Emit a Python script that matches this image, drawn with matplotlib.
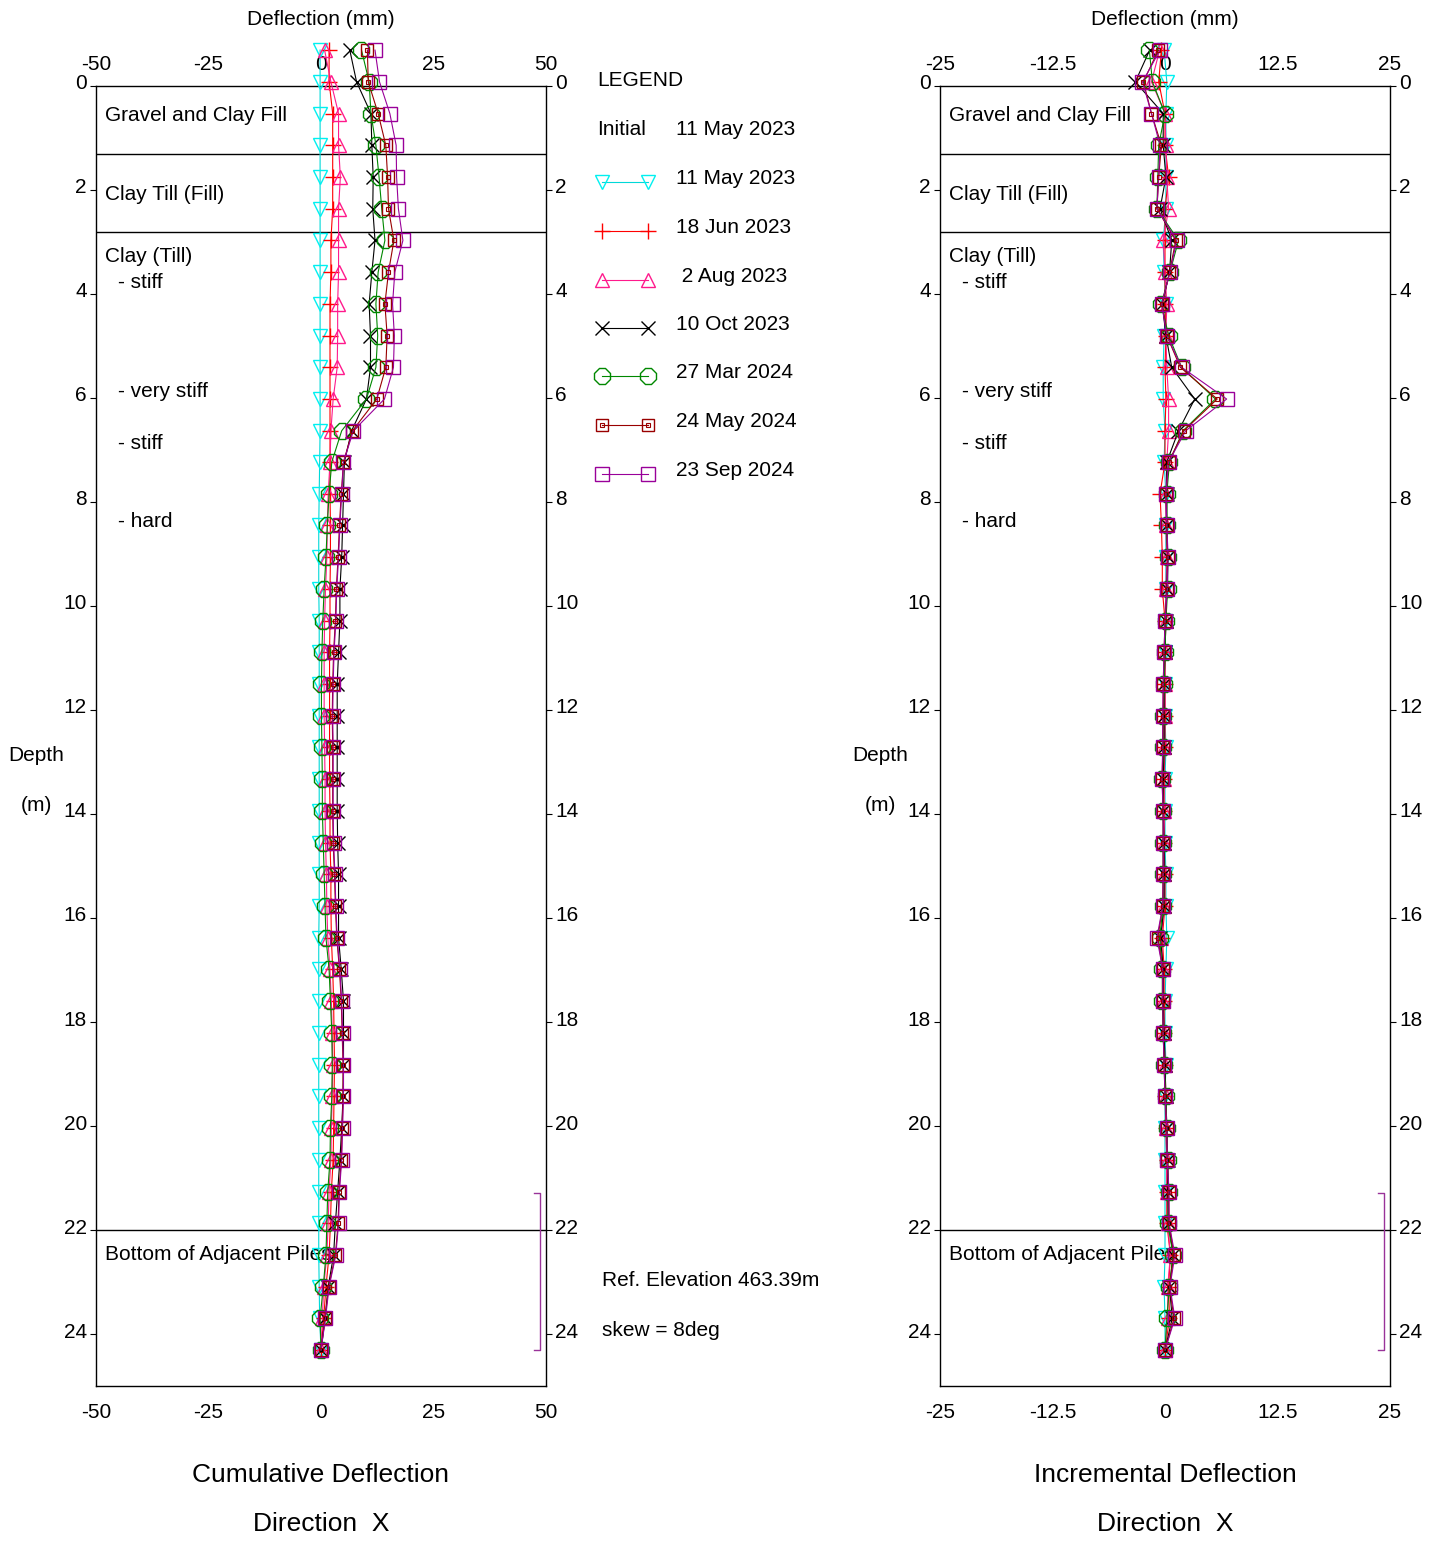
import matplotlib
matplotlib.use("Agg")
import matplotlib.pyplot as plt
from matplotlib.transforms import ScaledTranslation

plt.rcParams['font.family'] = ['Liberation Sans', 'DejaVu Sans']

# ---------------- data ----------------
depth = [-0.69, -0.08, 0.53, 1.14, 1.75, 2.36, 2.97, 3.58, 4.19, 4.80,
         5.41, 6.02, 6.63, 7.23, 7.84, 8.45, 9.06, 9.67, 10.28, 10.89,
         11.50, 12.11, 12.72, 13.33, 13.94, 14.55, 15.16, 15.77, 16.38, 16.99,
         17.60, 18.21, 18.82, 19.43, 20.04, 20.65, 21.26, 21.87, 22.48, 23.09,
         23.70, 24.31]

labels = ["11 May 2023", "18 Jun 2023", " 2 Aug 2023", "10 Oct 2023",
          "27 Mar 2024", "24 May 2024", "23 Sep 2024"]

cum_cyan = [-0.2, -0.2, -0.2, -0.2, -0.2, -0.2, -0.2, -0.2, -0.2, -0.2,
            -0.2, -0.2, -0.2, -0.3, -0.4, -0.5, -0.5, -0.5, -0.4, -0.4,
            -0.4, -0.4, -0.4, -0.4, -0.4, -0.4, -0.4, -0.4, -0.5, -0.5,
            -0.5, -0.5, -0.5, -0.5, -0.5, -0.5, -0.5, -0.5, -0.5, -0.4,
            -0.3, 0.0]
cum_red = [1.8, 1.8, 2.6, 2.6, 2.6, 2.6, 2.2, 2.2, 2.0, 2.0,
           2.0, 2.0, 2.0, 2.0, 2.0, 2.1, 2.1, 2.0, 2.0, 1.9,
           1.9, 1.9, 1.9, 1.9, 2.0, 2.0, 2.2, 2.2, 2.3, 2.6,
           2.8, 2.9, 3.0, 2.9, 2.8, 2.7, 2.3, 2.1, 1.8, 1.1,
           0.6, 0.0]
cum_pink = [0.8, 2.2, 3.9, 3.9, 4.3, 3.9, 3.9, 3.9, 3.7, 3.7,
            3.6, 2.7, 2.2, 2.0, 1.6, 1.4, 1.3, 1.0, 0.8, 0.7,
            0.7, 0.7, 0.8, 0.9, 0.9, 1.0, 1.2, 1.3, 1.5, 2.0,
            2.3, 2.5, 2.6, 2.5, 2.3, 2.2, 1.8, 1.6, 1.3, 0.6,
            0.3, 0.0]
cum_black = [6.4, 7.9, 11.1, 11.3, 11.6, 11.5, 12.0, 11.3, 10.7, 11.0,
             11.0, 10.1, 6.8, 5.2, 5.0, 4.8, 4.6, 4.2, 4.2, 3.9,
             3.6, 3.6, 3.6, 3.6, 3.6, 3.7, 3.9, 3.9, 3.9, 4.5,
             5.0, 5.0, 5.0, 4.9, 4.6, 4.2, 3.7, 3.2, 2.8, 1.6,
             0.9, 0.0]
cum_green = [9.0, 10.7, 11.1, 12.2, 12.9, 13.5, 14.2, 12.7, 12.2, 12.6,
             12.2, 10.1, 4.6, 2.4, 1.8, 1.4, 1.1, 0.7, 0.4, 0.2,
             0.1, 0.1, 0.2, 0.3, 0.3, 0.5, 0.7, 0.9, 1.1, 1.8,
             2.1, 2.4, 2.5, 2.4, 2.1, 2.0, 1.5, 1.3, 1.1, 0.5,
             -0.2, 0.0]
cum_brown = [10.3, 10.5, 12.7, 14.4, 14.8, 15.0, 16.2, 15.0, 14.2, 14.7,
             14.4, 12.4, 7.0, 5.0, 4.5, 4.1, 3.8, 3.4, 3.2, 2.8,
             2.6, 2.5, 2.6, 2.6, 2.6, 2.7, 3.0, 3.2, 3.5, 4.1,
             4.5, 4.7, 4.9, 4.9, 4.7, 4.5, 4.0, 3.8, 3.2, 1.7,
             0.9, 0.0]
cum_purple = [12.0, 13.0, 15.3, 16.7, 16.8, 17.2, 18.2, 16.4, 15.9, 16.3,
              16.1, 14.1, 7.2, 5.0, 4.6, 4.2, 3.9, 3.5, 3.3, 2.9,
              2.7, 2.6, 2.7, 2.7, 2.7, 2.8, 3.1, 3.3, 3.6, 4.2,
              4.6, 4.8, 5.0, 5.0, 4.8, 4.6, 4.1, 3.9, 3.3, 1.8,
              1.0, 0.0]

inc_cyan = [-0.1, 0.2, 0.1, 0.1, 0.1, 0.1, -0.2, -0.1, 0.1, -0.1,
            -0.2, -0.2, 0.0, -0.1, 0.1, 0.1, 0.1, 0.1, 0.0, 0.0,
            0.0, 0.0, 0.1, 0.0, 0.0, 0.0, 0.1, 0.1, 0.2, 0.1,
            0.0, 0.0, 0.1, 0.0, 0.0, 0.0, 0.0, 0.0, 0.0, -0.1,
            0.0, 0.0]
inc_red = [-0.4, -0.7, 0.0, 0.0, 0.4, 0.0, 0.0, 0.0, 0.0, 0.1,
           0.0, 0.1, 0.0, 0.0, -0.55, -0.4, -0.3, -0.3, 0.0, 0.0,
           0.0, 0.0, 0.0, -0.1, -0.1, -0.1, 0.0, 0.0, -0.3, -0.1,
           -0.1, -0.1, 0.0, 0.0, 0.1, 0.2, 0.2, 0.2, 0.6, 0.4,
           0.5, 0.0]
inc_pink = [-0.6, -1.5, 0.0, 0.1, 0.2, 0.4, -0.2, 0.0, 0.2, 0.1,
            0.2, 0.4, 0.4, 0.2, 0.1, 0.1, 0.2, 0.1, 0.1, 0.0,
            0.0, 0.0, -0.1, -0.1, -0.1, -0.1, -0.1, -0.1, -0.4, -0.2,
            -0.2, -0.1, 0.0, 0.1, 0.1, 0.2, 0.2, 0.3, 0.6, 0.3,
            0.3, 0.0]
inc_black = [-1.7, -3.3, -0.2, -0.2, 0.1, -0.55, 0.75, 0.5, -0.3, 0.1,
             0.75, 3.3, 1.5, 0.2, 0.2, 0.2, 0.3, 0.2, 0.1, 0.0,
             -0.1, -0.1, -0.1, -0.2, -0.2, -0.1, -0.1, -0.1, -0.5, -0.2,
             -0.2, -0.1, 0.0, 0.1, 0.2, 0.3, 0.3, 0.4, 0.9, 0.5,
             0.8, 0.0]
inc_green = [-1.74, -1.4, 0.0, -0.7, -0.8, -0.9, 1.5, 0.55, -0.4, 0.4,
             1.85, 5.6, 2.0, 0.5, 0.2, 0.2, 0.3, 0.3, 0.1, 0.0,
             -0.1, -0.2, -0.2, -0.3, -0.2, -0.2, -0.2, -0.2, -0.6, -0.3,
             -0.3, -0.2, -0.1, 0.1, 0.2, 0.3, 0.4, 0.3, 0.9, 0.5,
             0.2, 0.0]
inc_brown = [-0.74, -2.4, -1.5, -0.4, -0.7, -0.9, 1.2, 0.5, -0.3, 0.2,
             1.7, 5.8, 2.1, 0.4, 0.1, 0.2, 0.3, 0.25, 0.0, -0.1,
             -0.2, -0.2, -0.25, -0.3, -0.2, -0.2, -0.2, -0.25, -0.8, -0.25,
             -0.25, -0.2, -0.1, 0.0, 0.2, 0.25, 0.4, 0.45, 1.0, 0.5,
             1.0, 0.0]
inc_purple = [-0.55, -2.5, -1.5, -0.55, -0.7, -0.9, 1.3, 0.55, -0.37, 0.2,
              1.85, 6.85, 2.3, 0.4, 0.1, 0.2, 0.35, 0.25, 0.0, -0.1,
              -0.2, -0.25, -0.25, -0.35, -0.2, -0.2, -0.2, -0.25, -0.9, -0.25,
              -0.25, -0.2, -0.1, 0.0, 0.2, 0.25, 0.45, 0.45, 1.1, 0.55,
              1.1, 0.0]

cum_series = [cum_cyan, cum_red, cum_pink, cum_black, cum_green, cum_brown, cum_purple]
inc_series = [inc_cyan, inc_red, inc_pink, inc_black, inc_green, inc_brown, inc_purple]

layer_bounds = [1.3, 2.8, 22.0]
layer_text = [("Gravel and Clay Fill", 0.02, 0.56), ("Clay Till (Fill)", 0.02, 2.08),
              ("Clay (Till)", 0.02, 3.27), ("- stiff", 0.049, 3.77),
              ("- very stiff", 0.049, 5.88), ("- stiff", 0.049, 6.88),
              ("- hard", 0.049, 8.38), ("Bottom of Adjacent Piles", 0.02, 22.48)]
bracket_range = [21.29, 24.31]

# ---------------- styles ----------------
styles = [
    dict(color='#00D8D8', marker='v', ms=10, mfc='none', mec='#00F0F0', mew=1.0),
    dict(color='#FF0000', marker='+', ms=12, mew=1.0),
    dict(color='#FF1A8C', marker='^', ms=10, mfc='none', mew=1.0),
    dict(color='#000000', marker='x', ms=10, mew=1.0),
    dict(color='#008800', marker='8', ms=13, mfc='none', mew=1.0),
    dict(color='#990000', marker='s', ms=8.5, mfc='none', mew=1.0),
    dict(color='#990099', marker='s', ms=9.5, mfc='none', mew=1.0),
]

W, H = 1437, 1541
fig = plt.figure(figsize=(W / 100, H / 100), dpi=100)

def px_axes(x0, x1, y0, y1):
    return fig.add_axes([x0 / W, 1 - y1 / H, (x1 - x0) / W, (y1 - y0) / H])

FS = 15
off_y = ScaledTranslation(0, 4 / 100, fig.dpi_scale_trans)
off_top = ScaledTranslation(0, -3 / 100, fig.dpi_scale_trans)
off_bot = ScaledTranslation(0, -2 / 100, fig.dpi_scale_trans)

def setup(ax, lim, xticks, xticklabels):
    ax.set_xlim(-lim, lim)
    ax.set_ylim(25, 0)
    ax.set_xticks(xticks)
    ax.set_xticklabels(xticklabels)
    ax.tick_params(axis='x', which='both', top=True, bottom=True,
                   labeltop=True, labelbottom=True, length=0, labelsize=FS, pad=11)
    ax.set_yticks(range(0, 25, 2))
    ax.tick_params(axis='y', which='both', left=True, right=True,
                   labelleft=True, labelright=True, direction='out',
                   length=4, width=0.8, labelsize=FS, pad=2.5)
    for t in ax.xaxis.get_major_ticks():
        t.label1.set_transform(t.label1.get_transform() + off_bot)
        t.label2.set_transform(t.label2.get_transform() + off_top)
    for t in ax.yaxis.get_major_ticks():
        t.label1.set_transform(t.label1.get_transform() + off_y)
        t.label2.set_transform(t.label2.get_transform() + off_y)
    for s in ax.spines.values():
        s.set_linewidth(1.0)
    for b in layer_bounds:
        ax.axhline(b, color='black', lw=1.0, zorder=1)
    for t, xf, d in layer_text:
        ax.text(xf, d, t, transform=ax.get_yaxis_transform(), fontsize=FS,
                va='center', ha='left', zorder=2)
    tr = ax.get_yaxis_transform()
    b0, b1 = bracket_range
    ax.plot([0.973, 0.987, 0.987, 0.973], [b0, b0, b1, b1],
            color='#993399', lw=1.0, transform=tr, clip_on=False)

axL = px_axes(96, 546, 86, 1386)
axR = px_axes(940, 1390, 86, 1386)
setup(axL, 50, [-50, -25, 0, 25, 50], ['-50', '-25', '0', '25', '50'])
setup(axR, 25, [-25, -12.5, 0, 12.5, 25], ['-25', '-12.5', '0', '12.5', '25'])

for vals, st in zip(cum_series, styles):
    axL.plot(vals, depth, lw=0.8, clip_on=False, zorder=3, **st)
for vals, st in zip(inc_series, styles):
    axR.plot(vals, depth, lw=0.8, clip_on=False, zorder=3, **st)
# inner square of the brown marker
axL.plot(cum_brown, depth, ls='none', marker='s', ms=3.5, mfc='none', mec='#990000',
         mew=0.8, clip_on=False, zorder=3)
axR.plot(inc_brown, depth, ls='none', marker='s', ms=3.5, mfc='none', mec='#990000',
         mew=0.8, clip_on=False, zorder=3)

# ---------------- overlay for free text & legend ----------------
ov = fig.add_axes([0, 0, 1, 1], zorder=-1)
ov.set_xlim(0, W)
ov.set_ylim(H, 0)
ov.axis('off')

for cx, title in ((321, "Cumulative Deflection"), (1165, "Incremental Deflection")):
    ov.text(cx, 19, "Deflection (mm)", fontsize=FS, ha='center', va='center')
    ov.text(cx, 1475, title, fontsize=19, ha='center', va='center')
    ov.text(cx, 1524, "Direction  X", fontsize=19, ha='center', va='center')
for dx in (36, 880):
    ov.text(dx, 755, "Depth", fontsize=FS, ha='center', va='center')
    ov.text(dx, 805, "(m)", fontsize=FS, ha='center', va='center')

ov.text(597, 80, "LEGEND", fontsize=FS, ha='left', va='center')
ov.text(597, 129, "Initial", fontsize=FS, ha='left', va='center')
ov.text(676, 129, "11 May 2023", fontsize=FS, ha='left', va='center')
leg_y = [178, 227, 276, 324, 372, 421, 470]
for y, lab, st in zip(leg_y, labels, styles):
    ov.plot([602, 648], [y + 4, y + 4], lw=0.8, **st)
    if st['color'] == '#990000':
        ov.plot([602, 648], [y + 4, y + 4], ls='none', marker='s', ms=3.5,
                mfc='none', mec='#990000', mew=0.8)
    ov.text(676, y, lab, fontsize=FS, ha='left', va='center')

ov.text(602, 1281, "Ref. Elevation 463.39m", fontsize=FS, ha='left', va='center')
ov.text(602, 1330, "skew = 8deg", fontsize=FS, ha='left', va='center')

fig.savefig("out.png", dpi=100)
